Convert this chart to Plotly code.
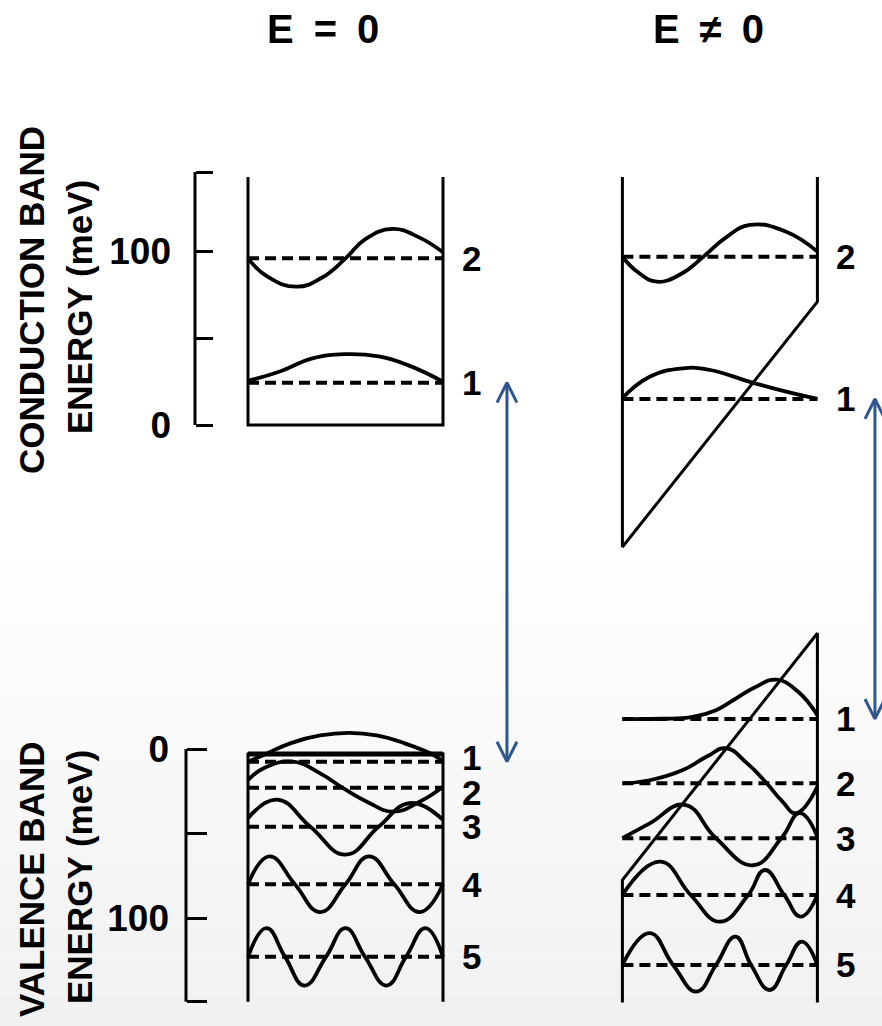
import plotly.graph_objects as go

# ------------------------------------------------------------------ data
# positions across the well in Å (well spans 0..100), energies in meV
# conduction band energies measured upward, valence (hole) energies downward

TITLES = ["E = 0", "E \u2260 0"]
AXIS_TITLES_CB = ["CONDUCTION BAND", "ENERGY (meV)"]
AXIS_TITLES_VB = ["VALENCE BAND", "ENERGY (meV)"]

CB_TICKS = [0, 50, 100, 145.8]
CB_TICKTEXT = ["0", "", "100", ""]
VB_TICKS = [0, 50, 100, 149.5]
VB_TICKTEXT = ["0", "", "100", ""]

# ---- E = 0 : conduction band
CB0_TOP = 143
CB0_EDGE = [0, 0]
CB0_LEVELS = [24.4, 96.1]
CB0_PSI_Z = [[0, 16, 33, 50, 67, 82, 100],
             [0, 10, 25, 38, 50, 60, 74, 88, 100]]
CB0_PSI_E = [[25.5, 30.7, 38.4, 40.8, 39.5, 34.5, 25],
             [96, 85.5, 79.7, 85, 96, 107, 113, 108, 99.5]]

# ---- E = 0 : valence band (hole energy)
VB0_BOTTOM = 149.5
VB0_EDGE = [3, 3]
VB0_LEVELS = [7.5, 23, 46, 80, 123]
VB0_PSI_Z = [[0, 8, 22, 37, 52, 66, 80, 95, 100],
             [0, 8, 23, 37, 49, 61, 74.5, 88, 100],
             [0, 15, 32, 50, 67, 83, 100],
             [0, 11, 24, 37, 50, 62, 75, 88, 100],
             [0, 9.5, 19, 29, 40, 50, 60, 71, 81, 91, 100]]
VB0_PSI_E = [[7.5, 3.5, -3.5, -8, -9.5, -8, -3.5, 3.5, 7.5],
             [18.5, 11.4, 7.5, 14.4, 23.3, 31.2, 37.1, 31.2, 22.3],
             [41, 30, 46, 62.5, 46, 32, 42],
             [80, 63.5, 80, 96.5, 80, 63.5, 80, 96.5, 80],
             [123, 106, 123, 140, 123, 106, 123, 140, 123, 106, 123]]
VB0_LABEL_NUDGE = [-2.5, 3, 0, 0, 0]

# ---- E != 0 : conduction band
CB1_TOP = 143
CB1_EDGE = [-70.3, 71.1]
CB1_LEVELS = [15, 97]
CB1_PSI_Z = [[0, 14, 31, 45, 65, 84, 100],
             [0, 8, 17.6, 30, 41.5, 53, 65.4, 84, 100]]
CB1_PSI_E = [[15.5, 27.8, 32.7, 31.7, 25, 19.2, 15],
             [97, 88, 82.6, 87, 97, 108, 115.3, 111.4, 99.9]]

# ---- E != 0 : valence band (hole energy)
VB1_BOTTOM = 150
VB1_EDGE = [77.5, -68.5]
VB1_LEVELS = [-17.8, 20.3, 52.8, 86.4, 127.8]
VB1_PSI_Z = [[0, 20, 36, 48, 57, 68, 79, 90, 100],
             [0, 14, 31, 44, 53, 64, 74, 82, 89, 100],
             [0, 14, 32, 48, 67, 81.5, 91, 100],
             [0, 19.5, 35, 50, 64.5, 73, 83, 91.5, 100],
             [0, 14, 26, 38, 48, 58, 66, 75.5, 84, 92, 100]]
VB1_PSI_E = [[-17.8, -17.9, -19, -23, -29, -36.5, -41, -34, -20],
             [20.3, 18.5, 12.5, 4, -0.5, 8.5, 20.3, 31, 38, 22.3],
             [52.8, 44, 33, 52.8, 68.8, 52.8, 38, 52],
             [86.4, 66.7, 86.4, 102.2, 86.4, 71.6, 86.4, 99.2, 86.4],
             [127.8, 109, 127.8, 143.6, 127.8, 111, 127.8, 142.6, 127.8, 114, 127.8]]

# ------------------------------------------------------------------ layout constants
W, H = 882, 1026
X0_PX, PX_PER_A = 248, 1.95          # left well edge (px) and scale
X_OFF_R = 192                          # right panel offset (Å)
CB_Y0, CB_PX = 425, 1.735              # conduction 0 meV pixel and px/meV
VB_Y0, VB_PX = 749, 1.69               # valence 0 meV pixel and px/meV
LABEL_X = [108.5, 108.5 + X_OFF_R]
ARROW_X = [132.8, 321.5]
ARROW_COLOR = "#2f568f"
FONT = "Liberation Sans"


def v2c(ev):
    """convert a valence (hole) energy to the conduction axis scale"""
    py = VB_Y0 + VB_PX * ev
    return (CB_Y0 - py) / CB_PX


fig = go.Figure()


def line(x, y, yaxis="y", width=3, dash="solid", color="black", shape="linear"):
    fig.add_trace(go.Scatter(
        x=x, y=y, yaxis=yaxis, mode="lines",
        line=dict(color=color, width=width, dash=dash, shape=shape, smoothing=1.3),
        hoverinfo="skip", showlegend=False))


def panel(off, top_or_bottom, edge, levels, psi_z, psi_e, yaxis, label_x, nudge=None,
          edge_width=3):
    nudge = nudge or [0] * len(levels)
    # well outline
    line([off + 0, off + 0, off + 100, off + 100],
         [top_or_bottom, edge[0], edge[1], top_or_bottom], yaxis=yaxis, width=3)
    if edge_width > 3:
        line([off + 0, off + 100], edge, yaxis=yaxis, width=edge_width)
    # energy levels
    for lv in levels:
        line([off + 0, off + 100], [lv, lv], yaxis=yaxis, width=4, dash="11px,6px")
    # wavefunctions
    for zz, ee in zip(psi_z, psi_e):
        line([off + z for z in zz], ee, yaxis=yaxis, width=3.8, shape="spline")
    # level numbers
    for i, lv in enumerate(levels):
        fig.add_annotation(x=label_x, y=lv + nudge[i], xref="x", yref=yaxis,
                           text=str(i + 1), showarrow=False, xanchor="left",
                           yanchor="middle",
                           font=dict(family=FONT, size=35, color="black", weight="bold"))


panel(0, CB0_TOP, CB0_EDGE, CB0_LEVELS, CB0_PSI_Z, CB0_PSI_E, "y", LABEL_X[0])
panel(X_OFF_R, CB1_TOP, CB1_EDGE, CB1_LEVELS, CB1_PSI_Z, CB1_PSI_E, "y", LABEL_X[1])
panel(0, VB0_BOTTOM, VB0_EDGE, VB0_LEVELS, VB0_PSI_Z, VB0_PSI_E, "y2", LABEL_X[0],
      nudge=VB0_LABEL_NUDGE, edge_width=5)
panel(X_OFF_R, VB1_BOTTOM, VB1_EDGE, VB1_LEVELS, VB1_PSI_Z, VB1_PSI_E, "y2", LABEL_X[1])

# transition arrows between the first conduction and first valence levels
HEAD_DX, HEAD_DY = 5.1, 11.5
for ax_, top, bot in [(ARROW_X[0], CB0_LEVELS[0], v2c(VB0_LEVELS[0])),
                      (ARROW_X[1], CB1_LEVELS[0], v2c(VB1_LEVELS[0]))]:
    xs = [ax_, ax_, None,
          ax_ - HEAD_DX, ax_, ax_ + HEAD_DX, None,
          ax_ - HEAD_DX, ax_, ax_ + HEAD_DX]
    ys = [top, bot, None,
          top - HEAD_DY, top, top - HEAD_DY, None,
          bot + HEAD_DY, bot, bot + HEAD_DY]
    line(xs, ys, yaxis="y", width=3, color=ARROW_COLOR)

# brackets (vertical spines of the energy scales)
fig.add_shape(type="line", xref="paper", yref="y", x0=195 / W, x1=195 / W,
              y0=CB_TICKS[0], y1=CB_TICKS[-1], line=dict(color="black", width=3))
fig.add_shape(type="line", xref="paper", yref="y2", x0=186 / W, x1=186 / W,
              y0=VB_TICKS[0], y1=VB_TICKS[-1], line=dict(color="black", width=3))

# subtle background gradient at the bottom
N_BANDS = 14
g_top, g_bot = 560, H
for i in range(N_BANDS):
    ya = g_top + (g_bot - g_top) * i / N_BANDS
    yb = g_top + (g_bot - g_top) * (i + 1) / N_BANDS
    g = 254 - i
    fig.add_shape(type="rect", xref="paper", yref="paper", x0=0, x1=1,
                  y0=1 - yb / H, y1=1 - ya / H, layer="below",
                  line=dict(width=0), fillcolor=f"rgb({g},{g},{g})")

# titles
for txt, xp in zip(TITLES, [323, 708]):
    fig.add_annotation(text=txt.replace(" ", "\u2002"), x=xp / W, y=1 - 29 / H,
                       xref="paper", yref="paper", showarrow=False,
                       xanchor="center", yanchor="middle",
                       font=dict(family=FONT, size=40, color="black", weight="bold"))

for texts, ycen in [(AXIS_TITLES_CB, [300, 307]), (AXIS_TITLES_VB, [880, 877])]:
    for txt, xp, yp in zip(texts, [31, 79], ycen):
        fig.add_annotation(text=txt, x=xp / W, y=1 - yp / H, xref="paper", yref="paper",
                           showarrow=False, textangle=-90, xanchor="center",
                           yanchor="middle",
                           font=dict(family=FONT, size=35, color="black", weight="bold"))

tickfont = dict(family=FONT, size=37, color="black", weight="bold")
fig.update_layout(
    width=W, height=H, margin=dict(l=0, r=0, t=0, b=0),
    paper_bgcolor="white", plot_bgcolor="white", showlegend=False,
    xaxis=dict(range=[-X0_PX / PX_PER_A, (W - X0_PX) / PX_PER_A], visible=False,
               fixedrange=True),
    yaxis=dict(range=[(CB_Y0 - H) / CB_PX, CB_Y0 / CB_PX], tickvals=CB_TICKS,
               ticktext=CB_TICKTEXT, ticks="inside", ticklen=17, tickwidth=3,
               tickcolor="black", showgrid=False, zeroline=False, showline=False,
               anchor="free", position=195 / W, side="left", tickfont=tickfont,
               ticklabelstandoff=24, fixedrange=True),
    yaxis2=dict(range=[(H - VB_Y0) / VB_PX, -VB_Y0 / VB_PX], tickvals=VB_TICKS,
                ticktext=VB_TICKTEXT, ticks="inside", ticklen=20, tickwidth=3,
                tickcolor="black", showgrid=False, zeroline=False, showline=False,
                anchor="free", position=186 / W, side="left", overlaying="y",
                tickfont=tickfont, ticklabelstandoff=17, fixedrange=True),
)

fig.write_html("out.html")
